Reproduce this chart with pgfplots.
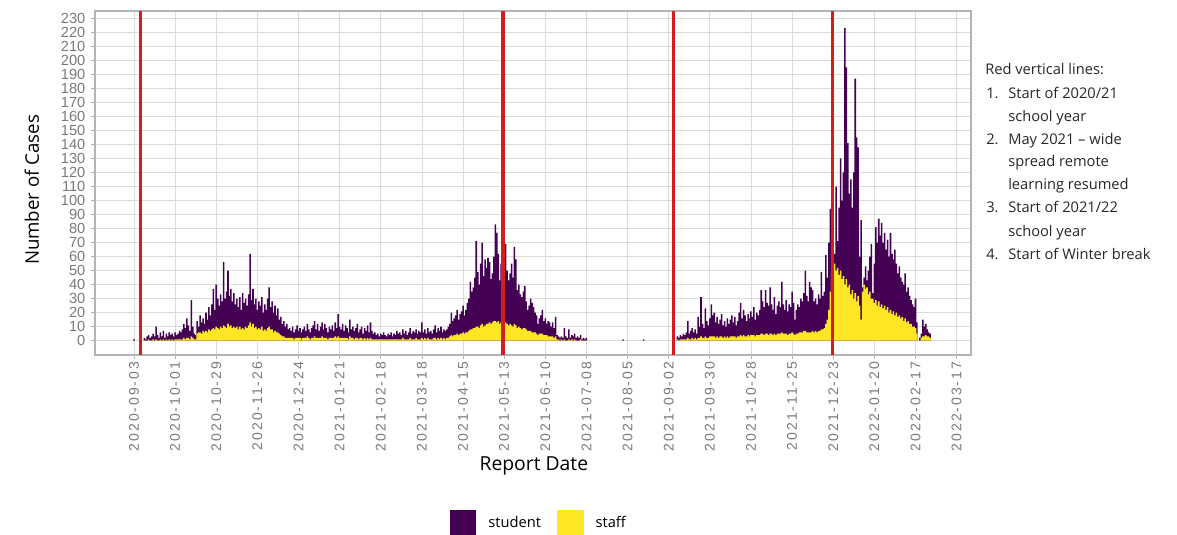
\documentclass[border=0pt]{standalone}
\usepackage{fontspec}
\setmainfont{Open Sans}
\newfontfamily\ticky{Liberation Sans}
\newfontfamily\tickx{Liberation Sans}[LetterSpace=14]
\usepackage{pgfplots}
\usepackage{pgfplotstable}
\pgfplotsset{compat=1.18}

\definecolor{vpurple}{HTML}{440154}
\definecolor{vyellow}{HTML}{FDE725}
\definecolor{vred}{HTML}{D41E1E}
\definecolor{gridc}{HTML}{DCDCDC}
\definecolor{framec}{HTML}{B3B3B3}
\definecolor{tickc}{HTML}{7A7A7A}

% day = days since 2020-09-03, total = all cases, staff = staff cases
\pgfplotstableread[row sep=\\]{
day total staff\\
0 1 0\\ 7 2 0\\ 8 1 0\\ 9 3 0\\ 10 4 1\\ 11 2 0\\ 12 3 0\\ 13 5 1\\ 14 3 0\\ 15 10 1\\
16 4 0\\ 17 2 0\\ 18 6 1\\ 19 3 0\\ 20 7 1\\ 21 2 0\\ 22 5 1\\ 23 3 0\\ 24 6 1\\ 25 4 0\\
26 5 1\\ 27 3 0\\ 28 6 1\\ 29 4 1\\ 30 5 1\\ 31 7 1\\ 32 6 1\\ 33 8 1\\ 34 12 2\\ 35 9 1\\
36 16 2\\ 37 11 2\\ 38 7 1\\ 39 29 3\\ 40 10 2\\ 41 5 1\\ 42 4 1\\ 43 14 5\\ 44 10 6\\ 45 18 6\\
46 13 5\\ 47 16 7\\ 48 12 6\\ 49 20 7\\ 50 15 6\\ 51 24 8\\ 52 18 7\\ 53 26 8\\ 54 37 9\\ 55 22 8\\
56 40 10\\ 57 30 9\\ 58 25 8\\ 59 33 10\\ 60 28 9\\ 61 56 11\\ 62 30 10\\ 63 35 9\\ 64 50 12\\ 65 32 10\\
66 37 11\\ 67 28 9\\ 68 34 10\\ 69 26 9\\ 70 30 10\\ 71 24 8\\ 72 31 10\\ 73 22 8\\ 74 34 9\\ 75 27 8\\
76 30 10\\ 77 25 9\\ 78 33 11\\ 79 62 13\\ 80 29 10\\ 81 37 12\\ 82 26 9\\ 83 30 10\\ 84 22 8\\ 85 28 9\\
86 25 8\\ 87 31 10\\ 88 20 7\\ 89 26 8\\ 90 22 7\\ 91 30 9\\ 92 38 10\\ 93 24 8\\ 94 28 8\\ 95 20 6\\
96 25 7\\ 97 18 6\\ 98 23 6\\ 99 15 5\\ 100 17 4\\ 101 12 3\\ 102 14 3\\ 103 10 2\\ 104 12 2\\ 105 8 2\\
106 9 2\\ 107 7 2\\ 108 10 2\\ 109 6 1\\ 110 8 2\\ 111 11 2\\ 112 7 2\\ 113 9 2\\ 114 6 1\\ 115 8 2\\
116 10 2\\ 117 7 2\\ 118 12 3\\ 119 8 2\\ 120 6 1\\ 121 9 2\\ 122 11 2\\ 123 14 3\\ 124 8 2\\ 125 12 2\\
126 7 2\\ 127 10 2\\ 128 13 3\\ 129 8 2\\ 130 12 2\\ 131 9 2\\ 132 6 1\\ 133 10 2\\ 134 8 2\\ 135 11 2\\
136 7 2\\ 137 13 3\\ 138 9 2\\ 139 19 3\\ 140 10 2\\ 141 8 2\\ 142 12 2\\ 143 7 2\\ 144 11 2\\ 145 9 2\\
146 6 1\\ 147 15 3\\ 148 8 2\\ 149 10 2\\ 150 7 1\\ 151 9 2\\ 152 12 2\\ 153 6 1\\ 154 8 2\\ 155 10 2\\
156 5 1\\ 157 9 2\\ 158 7 1\\ 159 11 2\\ 160 6 1\\ 161 13 2\\ 162 7 1\\ 163 5 1\\ 164 6 1\\ 165 4 1\\
166 5 1\\ 167 3 1\\ 168 5 1\\ 169 4 1\\ 170 6 1\\ 171 4 1\\ 172 3 1\\ 173 5 1\\ 174 4 1\\ 175 6 1\\
176 3 1\\ 177 5 1\\ 178 4 1\\ 179 7 1\\ 180 5 1\\ 181 6 1\\ 182 4 1\\ 183 8 2\\ 184 5 1\\ 185 7 1\\
186 4 1\\ 187 6 1\\ 188 9 2\\ 189 5 1\\ 190 7 1\\ 191 6 1\\ 192 8 2\\ 193 5 1\\ 194 7 1\\ 195 6 1\\
196 13 2\\ 197 6 1\\ 198 8 2\\ 199 5 1\\ 200 9 2\\ 201 6 1\\ 202 7 1\\ 203 5 1\\ 204 8 2\\ 205 11 2\\
206 6 1\\ 207 9 2\\ 208 7 1\\ 209 10 2\\ 210 6 1\\ 211 8 2\\ 212 7 1\\ 213 8 2\\ 214 10 2\\ 215 12 3\\
216 20 4\\ 217 14 3\\ 218 16 4\\ 219 18 4\\ 220 22 5\\ 221 15 4\\ 222 19 5\\ 223 21 5\\ 224 25 6\\ 225 18 5\\
226 22 6\\ 227 27 6\\ 228 30 7\\ 229 42 8\\ 230 35 8\\ 231 38 9\\ 232 45 9\\ 233 71 10\\ 234 49 10\\ 235 40 9\\
236 55 11\\ 237 70 12\\ 238 46 10\\ 239 58 11\\ 240 52 12\\ 241 59 12\\ 242 56 13\\ 243 44 12\\ 244 48 13\\ 245 60 14\\
246 83 14\\ 247 77 13\\ 248 62 14\\ 249 43 12\\ 250 55 13\\ 251 36 11\\ 252 73 14\\ 253 69 13\\ 254 50 12\\ 255 43 11\\
256 48 12\\ 257 55 11\\ 258 45 10\\ 259 67 12\\ 260 58 11\\ 261 36 9\\ 262 40 10\\ 263 33 9\\ 264 31 8\\ 265 35 9\\
266 39 9\\ 267 28 8\\ 268 22 7\\ 269 25 7\\ 270 30 7\\ 271 27 6\\ 272 24 6\\ 273 20 6\\ 274 18 5\\ 275 12 4\\
276 16 5\\ 277 18 5\\ 278 22 5\\ 279 14 4\\ 280 16 4\\ 281 12 4\\ 282 14 3\\ 283 13 3\\ 284 10 3\\ 285 13 3\\
286 9 2\\ 287 17 3\\ 288 4 1\\ 289 3 1\\ 290 2 0\\ 291 3 1\\ 292 2 0\\ 293 9 1\\ 294 3 0\\ 295 2 0\\
296 8 1\\ 297 2 0\\ 298 4 1\\ 299 3 0\\ 300 5 1\\ 301 2 0\\ 302 3 0\\ 303 2 0\\ 304 4 1\\ 305 1 0\\
306 2 0\\ 307 1 0\\ 308 2 0\\ 333 1 0\\ 347 1 0\\
370 3 1\\ 371 2 0\\ 372 4 1\\ 373 3 1\\ 374 5 1\\ 375 4 1\\ 376 6 1\\ 377 14 2\\ 378 5 1\\ 379 7 1\\
380 9 2\\ 381 6 1\\ 382 8 2\\ 383 5 1\\ 384 17 2\\ 385 10 2\\ 386 31 3\\ 387 12 2\\ 388 9 2\\ 389 23 3\\
390 14 2\\ 391 11 2\\ 392 16 3\\ 393 26 3\\ 394 18 3\\ 395 20 3\\ 396 13 2\\ 397 17 3\\ 398 12 2\\ 399 15 3\\
400 19 3\\ 401 11 2\\ 402 14 3\\ 403 10 2\\ 404 16 3\\ 405 12 2\\ 406 15 3\\ 407 18 3\\ 408 13 3\\ 409 17 3\\
410 11 2\\ 411 14 3\\ 412 20 3\\ 413 27 4\\ 414 16 3\\ 415 22 4\\ 416 18 3\\ 417 14 3\\ 418 19 4\\ 419 16 3\\
420 21 4\\ 421 17 4\\ 422 24 4\\ 423 15 3\\ 424 20 4\\ 425 18 4\\ 426 22 4\\ 427 36 5\\ 428 28 5\\ 429 24 4\\
430 36 5\\ 431 27 5\\ 432 25 4\\ 433 38 5\\ 434 26 5\\ 435 22 4\\ 436 31 5\\ 437 19 4\\ 438 25 5\\ 439 28 5\\
440 24 5\\ 441 42 6\\ 442 26 5\\ 443 22 5\\ 444 29 5\\ 445 21 4\\ 446 26 5\\ 447 24 5\\ 448 35 6\\ 449 27 5\\
450 15 4\\ 451 22 5\\ 452 26 5\\ 453 24 6\\ 454 30 6\\ 455 28 6\\ 456 34 7\\ 457 50 7\\ 458 32 6\\ 459 28 6\\
460 42 6\\ 461 38 6\\ 462 36 7\\ 463 28 6\\ 464 30 7\\ 465 26 6\\ 466 33 7\\ 467 30 7\\ 468 49 8\\ 469 32 8\\
470 35 9\\ 471 61 12\\ 472 45 15\\ 473 70 22\\ 474 94 35\\ 475 60 48\\ 476 139 54\\ 477 62 55\\ 478 110 50\\ 479 71 52\\
480 95 47\\ 481 130 50\\ 482 100 44\\ 483 120 46\\ 484 223 40\\ 485 195 44\\ 486 141 38\\ 487 105 40\\ 488 115 33\\ 489 95 36\\
490 120 30\\ 491 187 34\\ 492 145 28\\ 493 138 32\\ 494 60 25\\ 495 86 15\\ 496 38 35\\ 497 45 40\\ 498 53 37\\ 499 43 38\\
500 50 33\\ 501 60 35\\ 502 69 30\\ 503 34 30\\ 504 55 27\\ 505 81 29\\ 506 70 25\\ 507 87 28\\ 508 75 24\\ 509 84 26\\
510 70 23\\ 511 77 25\\ 512 65 22\\ 513 72 24\\ 514 60 20\\ 515 77 22\\ 516 62 19\\ 517 58 21\\ 518 65 18\\ 519 55 20\\
520 48 17\\ 521 53 18\\ 522 45 16\\ 523 42 17\\ 524 40 14\\ 525 48 16\\ 526 35 13\\ 527 38 14\\ 528 32 12\\ 529 29 12\\
530 26 10\\ 531 24 10\\ 532 30 9\\ 533 13 5\\ 535 2 0\\ 536 5 2\\ 537 15 3\\ 538 10 3\\ 539 12 4\\ 540 8 3\\
541 6 3\\ 542 5 2\\
}\cases

\begin{document}
\begin{tikzpicture}
\useasboundingbox (0,0) rectangle (882.75pt,401.25pt);
\begin{axis}[
  at={(71.25pt,135pt)}, anchor=south west,
  scale only axis, width=657pt, height=258pt,
  xmin=-26.55, xmax=569.8, ymin=-10.2, ymax=235.2,
  xtick={0,28,...,560},
  xticklabels={2020-09-03,2020-10-01,2020-10-29,2020-11-26,2020-12-24,2021-01-21,2021-02-18,2021-03-18,2021-04-15,2021-05-13,2021-06-10,2021-07-08,2021-08-05,2021-09-02,2021-09-30,2021-10-28,2021-11-25,2021-12-23,2022-01-20,2022-02-17,2022-03-17},
  ytick={0,10,...,230},
  xmajorgrids, ymajorgrids,
  grid style={gridc, line width=0.6pt},
  axis line style={framec, line width=0.8pt},
  tick style={framec, line width=0.6pt},
  tick align=outside, major tick length=3pt,
  xtick pos=bottom, ytick pos=left,
  /pgf/number format/assume math mode=true,
  xticklabel style={rotate=90, anchor=east, text=tickc, inner sep=2pt,
    font=\tickx\fontsize{10.5}{10.5}\selectfont},
  yticklabel style={text=tickc, inner sep=1pt, xshift=-3pt,
    font=\ticky\fontsize{11}{11}\selectfont},
  xlabel={Report Date}, ylabel={Number of Cases},
  xlabel style={at={(axis description cs:0.501,-0.323)}, anchor=center,
    font=\fontsize{14.5}{16}\selectfont},
  ylabel style={at={(axis description cs:-0.072,0.48)}, anchor=center,
    font=\fontsize{14}{16}\selectfont},
  legend style={at={(axis description cs:0.507,-0.488)}, anchor=center,
    draw=none, fill=none, legend columns=2,
    font=\fontsize{11}{13}\selectfont,
    /tikz/every odd column/.append style={column sep=7pt},
    /tikz/every even column/.append style={column sep=10pt}},
  sqlegend/.style={legend image code/.code={\fill[##1] (0pt,-9.5pt) rectangle (20pt,9.5pt);}},
]
\addplot[ybar, bar width=1.05, bar shift=0pt, fill=vpurple, draw=none, sqlegend]
  table[x=day, y=total] {\cases};
\addlegendentry{student}
\addplot[ybar, bar width=1.05, bar shift=0pt, fill=vyellow, draw=none, sqlegend]
  table[x=day, y=staff] {\cases};
\addlegendentry{staff}
% red reference lines (days since 2020-09-03)
\addplot[vred, line width=2.3pt, forget plot] coordinates {(4.6,-10.2) (4.6,235.2)};
\addplot[vred, line width=2.3pt, forget plot] coordinates {(251.2,-10.2) (251.2,235.2)};
\addplot[vred, line width=2.3pt, forget plot] coordinates {(367.1,-10.2) (367.1,235.2)};
\addplot[vred, line width=2.3pt, forget plot] coordinates {(475.4,-10.2) (475.4,235.2)};
\end{axis}
\begin{scope}[font=\fontsize{11}{12}\selectfont, text=black!85]
\node[anchor=base west, inner sep=0pt] at (738.75pt,345pt) {Red vertical lines:};
\node[anchor=base west, inner sep=0pt] at (739.5pt,327.5pt) {1.};
\node[anchor=base west, inner sep=0pt] at (756pt,327.5pt) {Start of 2020/21};
\node[anchor=base west, inner sep=0pt] at (756pt,310pt) {school year};
\node[anchor=base west, inner sep=0pt] at (739.5pt,293pt) {2.};
\node[anchor=base west, inner sep=0pt] at (756pt,293pt) {May 2021 -- wide};
\node[anchor=base west, inner sep=0pt] at (756pt,276.2pt) {spread remote};
\node[anchor=base west, inner sep=0pt] at (756pt,258.75pt) {learning resumed};
\node[anchor=base west, inner sep=0pt] at (739.5pt,241.5pt) {3.};
\node[anchor=base west, inner sep=0pt] at (756pt,241.5pt) {Start of 2021/22};
\node[anchor=base west, inner sep=0pt] at (756pt,224pt) {school year};
\node[anchor=base west, inner sep=0pt] at (739.5pt,206.25pt) {4.};
\node[anchor=base west, inner sep=0pt] at (756pt,206.25pt) {Start of Winter break};
\end{scope}
\end{tikzpicture}
\end{document}
